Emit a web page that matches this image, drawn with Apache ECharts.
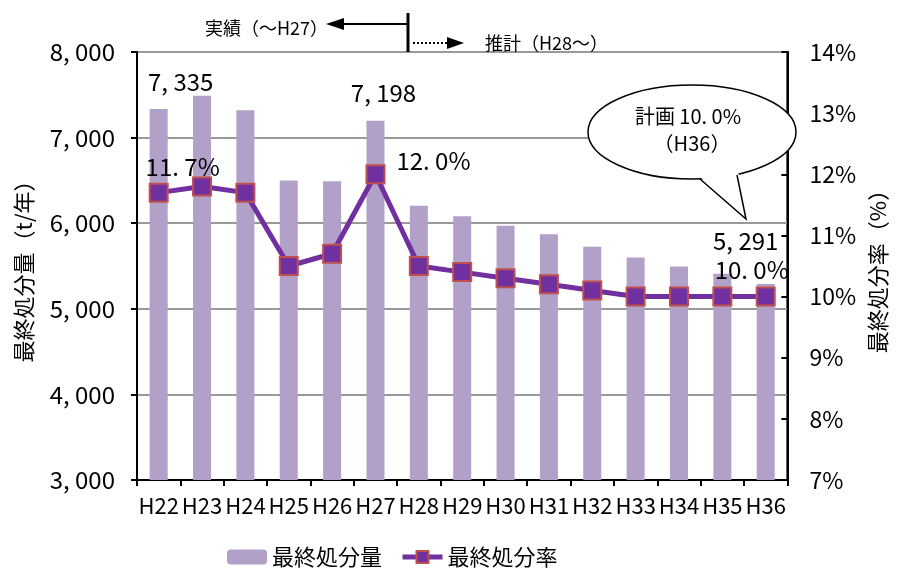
<!DOCTYPE html>
<html>
<head>
<meta charset="utf-8">
<script src="https://cdn.jsdelivr.net/npm/echarts@6/dist/echarts.min.js"></script>
<style>
  html, body { margin: 0; padding: 0; background: #fff; }
  #chart { width: 897px; height: 572px; }
</style>
</head>
<body>
<div id="chart"></div>
<script>
// Fiscal years (Heisei)
const years = ['H22','H23','H24','H25','H26','H27','H28','H29','H30','H31','H32','H33','H34','H35','H36'];
// Final disposal amount (t/year)
const disposalAmount = [7335, 7490, 7320, 6500, 6490, 7198, 6205, 6080, 5970, 5870, 5725, 5600, 5495, 5410, 5291];
// Final disposal rate (%)
const disposalRate = [11.7, 11.8, 11.7, 10.5, 10.7, 12.0, 10.5, 10.4, 10.3, 10.2, 10.1, 10.0, 10.0, 10.0, 10.0];
// Which points carry a value label, and where it sits relative to the mark
const amountLabelOffsets = { 0: [22, -10], 5: [8, -11], 14: [-20, -26] };
const rateLabelOffsets = { 0: [24, 1], 5: [58, 14], 14: [-14, 0] };

const JP = '"Noto Sans CJK JP", "Noto Sans", sans-serif';

const fmtThousands = v => {
  const s = Math.round(v).toString();
  return s.length > 3 ? s.slice(0, s.length - 3) + ', ' + s.slice(-3) : s;
};
const fmtPct = v => v.toFixed(1).replace('.', '. ') + '%';

const barData = disposalAmount.map((v, i) => {
  const off = amountLabelOffsets[i];
  if (!off) return v;
  return { value: v, label: { show: true, position: 'top', offset: off } };
});
const lineData = disposalRate.map((v, i) => {
  const off = rateLabelOffsets[i];
  if (!off) return v;
  return { value: v, label: { show: true, position: 'top', offset: off } };
});

const chart = echarts.init(document.getElementById('chart'));
chart.setOption({
  animation: false,
  backgroundColor: '#fff',
  grid: {
    left: 137, right: 101, top: 52, bottom: 92,
    show: true, borderColor: '#000', borderWidth: 2, backgroundColor: 'transparent'
  },
  legend: {
    left: 222, top: 541,
    itemWidth: 40, itemHeight: 15, itemGap: 18,
    textStyle: { fontFamily: JP, fontSize: 22, color: '#000' },
    data: [
      { name: '最終処分量' },
      { name: '最終処分率', lineStyle: { width: 5 } }
    ]
  },
  xAxis: {
    type: 'category',
    data: years,
    boundaryGap: true,
    axisLine: { lineStyle: { color: '#000', width: 2 } },
    axisTick: { show: true, length: 6, lineStyle: { color: '#000', width: 2 } },
    axisLabel: { fontFamily: JP, fontSize: 22, color: '#000', margin: 15, interval: 0 }
  },
  yAxis: [
    {
      type: 'value', min: 3000, max: 8000, interval: 1000,
      name: '最終処分量（t/年）', nameLocation: 'middle', nameRotate: 90, nameGap: 102,
      nameTextStyle: { fontFamily: JP, fontSize: 22, color: '#000' },
      axisLine: { show: true, lineStyle: { color: '#000', width: 2 } },
      axisTick: { show: true, length: 6, lineStyle: { color: '#000', width: 2 } },
      axisLabel: { fontFamily: JP, fontSize: 24, color: '#000', margin: 22, formatter: fmtThousands },
      splitLine: { show: true, lineStyle: { color: '#999', width: 2 } }
    },
    {
      type: 'value', min: 7, max: 14, interval: 1, position: 'right',
      name: '最終処分率（%）', nameLocation: 'middle', nameRotate: 90, nameGap: 76,
      nameTextStyle: { fontFamily: JP, fontSize: 22, color: '#000' },
      axisLine: { show: true, lineStyle: { color: '#000', width: 2 } },
      axisTick: { show: true, inside: true, length: 6, lineStyle: { color: '#000', width: 2 } },
      axisLabel: { fontFamily: JP, fontSize: 23, color: '#000', margin: 22, formatter: v => v + '%' },
      splitLine: { show: false }
    }
  ],
  series: [
    {
      name: '最終処分量',
      type: 'bar',
      yAxisIndex: 0,
      data: barData,
      barWidth: 18,
      itemStyle: { color: '#b1a0c7' },
      label: { show: false, fontFamily: JP, fontSize: 24, color: '#000', formatter: p => fmtThousands(p.value) },
      z: 2
    },
    {
      name: '最終処分率',
      type: 'line',
      yAxisIndex: 1,
      data: lineData,
      symbol: 'rect',
      symbolSize: 18,
      lineStyle: { color: '#7030a0', width: 5 },
      itemStyle: { color: '#7030a0', borderColor: '#c0504d', borderWidth: 2 },
      label: { show: false, fontFamily: JP, fontSize: 24, color: '#000', formatter: p => fmtPct(p.value) },
      z: 5
    }
  ]
});

// Annotations: actual/forecast divider with arrows, and the plan callout bubble
const divX = 408;
chart.setOption({
  graphic: [
    { type: 'line', shape: { x1: divX, y1: 13, x2: divX, y2: 52 }, style: { stroke: '#000', lineWidth: 3 }, z: 10 },
    { type: 'line', shape: { x1: divX, y1: 24, x2: 340, y2: 24 }, style: { stroke: '#000', lineWidth: 2 }, z: 10 },
    { type: 'polygon', shape: { points: [[326, 24], [344, 18], [344, 30]] }, style: { fill: '#000' }, z: 10 },
    { type: 'text', style: { x: 328, y: 28, text: '実績（〜H27）', align: 'right', verticalAlign: 'middle', font: '18px ' + JP, fill: '#000' }, z: 10 },
    { type: 'line', shape: { x1: divX + 5, y1: 43, x2: 448, y2: 43 }, style: { stroke: '#000', lineWidth: 2, lineDash: [2, 2] }, z: 10 },
    { type: 'polygon', shape: { points: [[464, 43], [447, 37], [447, 49]] }, style: { fill: '#000' }, z: 10 },
    { type: 'text', style: { x: 485, y: 43, text: '推計（H28〜）', align: 'left', verticalAlign: 'middle', font: '18px ' + JP, fill: '#000' }, z: 10 },
    // callout bubble
    { type: 'ellipse', shape: { cx: 692, cy: 132, rx: 104, ry: 47 }, style: { fill: '#fff', stroke: '#000', lineWidth: 1.5 }, z: 20 },
    { type: 'polygon', shape: { points: [[699, 176], [738, 171], [746, 219]] }, style: { fill: '#fff' }, z: 21 },
    { type: 'polyline', shape: { points: [[700, 179], [746, 219], [737, 175]] }, style: { stroke: '#000', lineWidth: 1.5, fill: null }, z: 22 },
    { type: 'text', style: { x: 688, y: 116, text: '計画 10. 0%', align: 'center', verticalAlign: 'middle', font: '20px ' + JP, fill: '#000' }, z: 23 },
    { type: 'text', style: { x: 692, y: 143, text: '（H36）', align: 'center', verticalAlign: 'middle', font: '20px ' + JP, fill: '#000' }, z: 23 }
  ]
});
</script>
</body>
</html>
